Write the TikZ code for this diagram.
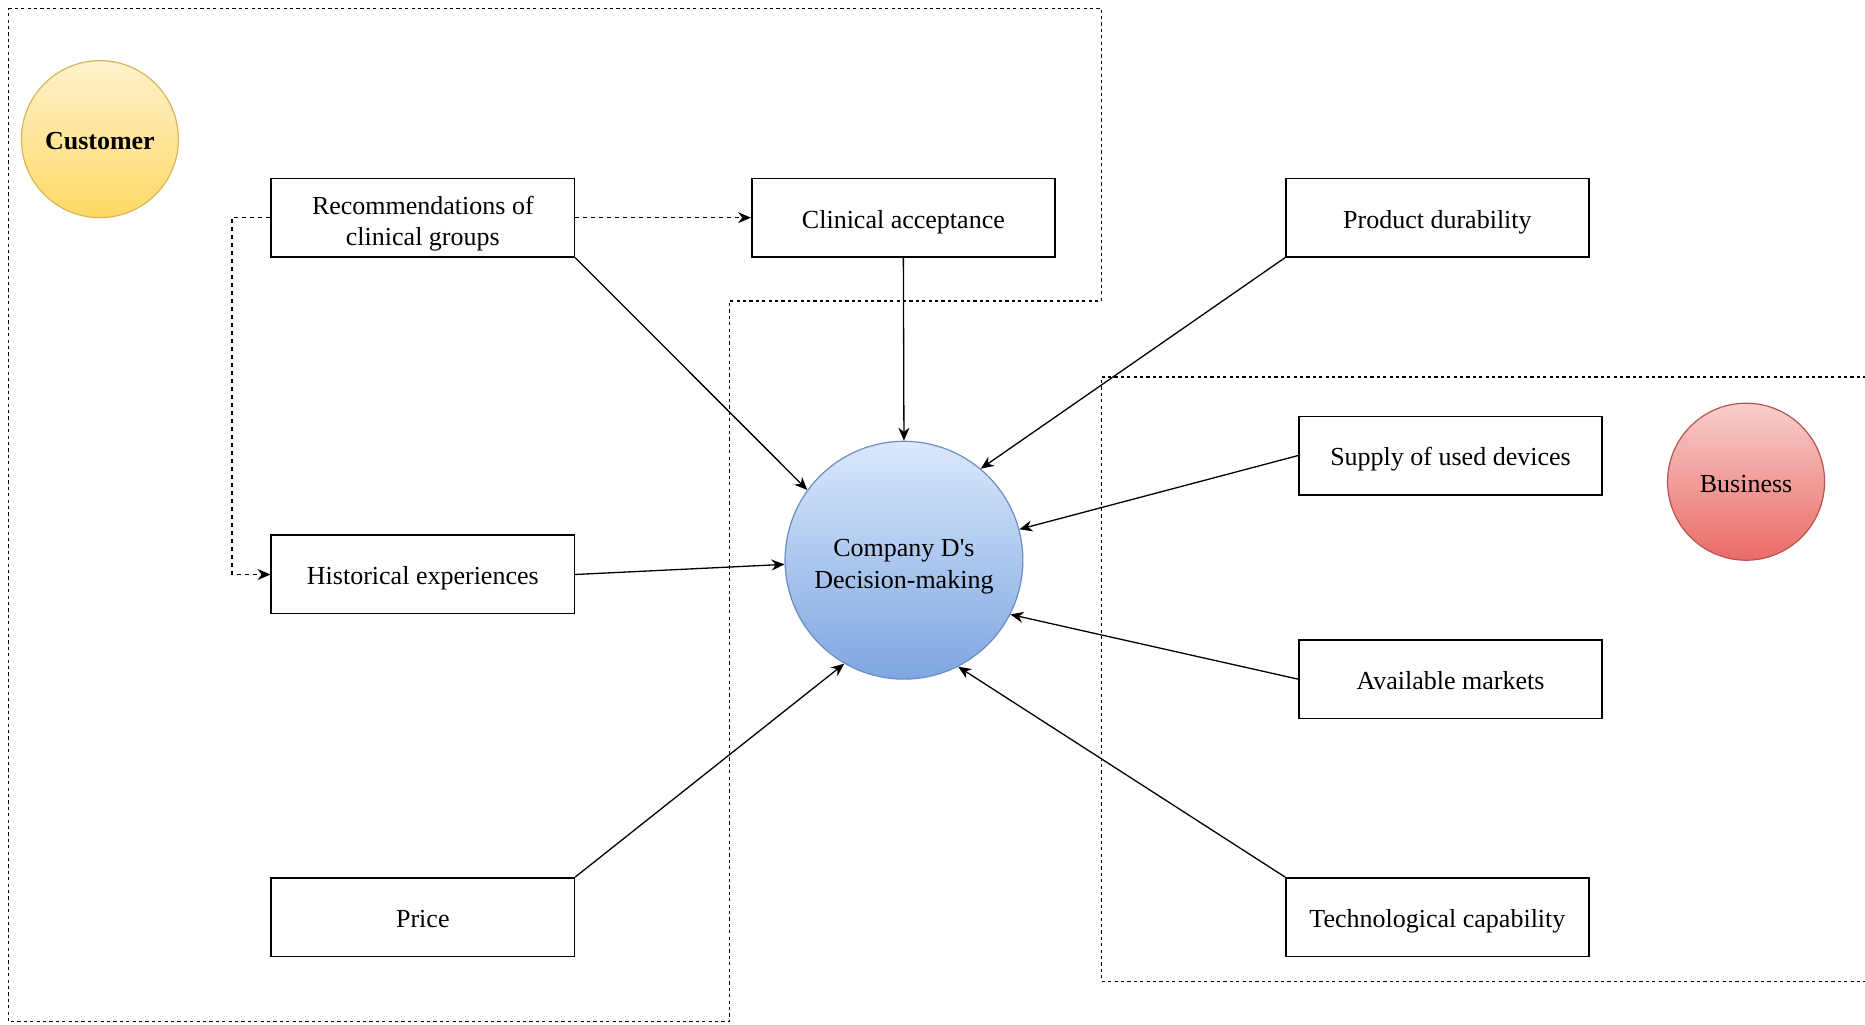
\documentclass[tikz,border=0pt]{standalone}
\usepackage{fontspec}
\setmainfont{Liberation Serif}[Ligatures=TeXOff]
\usetikzlibrary{arrows.meta}

\definecolor{custTop}{HTML}{FFF2CC}
\definecolor{custBot}{HTML}{FFD966}
\definecolor{custLine}{HTML}{D6B656}
\definecolor{coreTop}{HTML}{DAE8FC}
\definecolor{coreBot}{HTML}{7EA6E0}
\definecolor{coreLine}{HTML}{6C8EBF}
\definecolor{busTop}{HTML}{F8CECC}
\definecolor{busBot}{HTML}{EA6B66}
\definecolor{busLine}{HTML}{B85450}

% label with its first baseline placed at a fixed offset from the node centre
\newcommand\lbl[2][-5.2pt]{\raisebox{#1}[0pt][0pt]{\begin{tabular}[t]{@{}c@{}}#2\end{tabular}}}

\tikzset{
  factor/.style={draw, line width=0.75pt, minimum width=151.6pt, minimum height=39.25pt,
                 inner sep=0pt, fill=white},
  link/.style={-{Stealth[length=6.5pt,width=5.5pt]}, line width=0.65pt},
  hint/.style={link, dash pattern=on 2pt off 2pt},
  zone/.style={line width=0.6pt, dash pattern=on 1.6pt off 1.6pt},
  actor/.style={circle, inner sep=0pt, minimum size=78.5pt, line width=0.6pt},
}

\begin{document}
\begin{tikzpicture}[x=0.5947pt, y=-0.5947pt, font=\fontsize{13}{15.6}\selectfont]
\useasboundingbox (0,0) rectangle (1568,861);

% group outlines
\draw[zone] (7,7) -- (926,7) -- (926,253) -- (613,253) -- (613,859) -- (7,859) -- cycle;
\draw[zone] (1580,317) -- (926,317) -- (926,825) -- (1580,825);

% actors
\node[actor, draw=custLine, top color=custTop, bottom color=custBot]
  (customer) at (84,117) {\lbl{\bfseries Customer}};
\node[actor, draw=busLine, top color=busTop, bottom color=busBot]
  (business) at (1468,405) {\lbl{Business}};

% central decision
\node[circle, inner sep=0pt, minimum size=118.9pt, line width=0.6pt,
      draw=coreLine, top color=coreTop, bottom color=coreBot]
  (core) at (760,471) {\lbl[1.7pt]{Company D's\\Decision-making}};

% influencing factors
\node[factor] (rec)    at (355.5,183)  {\lbl[1.7pt]{Recommendations of\\clinical groups}};
\node[factor] (clin)   at (759.5,183)  {\lbl{Clinical acceptance}};
\node[factor] (prod)   at (1208.5,183) {\lbl{Product durability}};
\node[factor] (supply) at (1219.5,383) {\lbl{Supply of used devices}};
\node[factor] (hist)   at (355.5,483)  {\lbl{Historical experiences}};
\node[factor] (avail)  at (1219.5,571) {\lbl{Available markets}};
\node[factor] (price)  at (355.5,771)  {\lbl{Price}};
\node[factor] (tech)   at (1208.5,771) {\lbl{Technological capability}};

% influences on the decision
\draw[link] (rec.south east)    -- (core.144);
\draw[link] (clin.south)        -- (core.north);
\draw[link] (prod.south west)   -- (core.50);
\draw[link] (supply.west)       -- (core.15);
\draw[link] (hist.east)         -- (core.182);
\draw[link] (avail.west)        -- (core.-27);
\draw[link] (price.north east)  -- (core.240);
\draw[link] (tech.north west)   -- (core.-63);

% indirect influences
\draw[hint] (rec.east) -- (clin.west);
\coordinate (bendTop) at (195,183);
\coordinate (bendBot) at (195,483);
\draw[hint] (rec.west) -- (bendTop) -- (bendBot) -- (hist.west);
\end{tikzpicture}
\end{document}
